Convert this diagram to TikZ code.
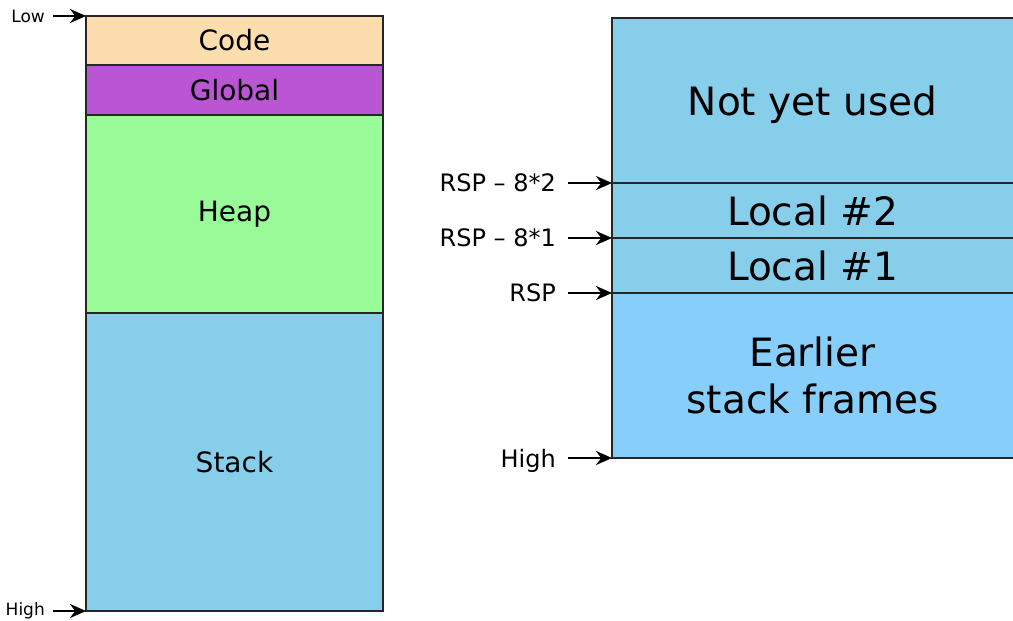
\documentclass[tikz,border=0pt]{standalone}
\usepackage{fontspec}
\setmainfont{DejaVu Sans}
\usetikzlibrary{positioning,arrows.meta}

\definecolor{codecol}{RGB}{252,222,174}
\definecolor{globalcol}{RGB}{186,85,211}
\definecolor{heapcol}{RGB}{152,251,152}
\definecolor{stackcol}{RGB}{135,206,235}
\definecolor{earliercol}{RGB}{135,206,250}

\tikzset{
  seg/.style={draw=black!85, line width=2.2pt, minimum width=297, inner sep=0, outer sep=0,
    font=\fontsize{28}{32}\selectfont},
  frame/.style={minimum width=401, inner sep=0, outer sep=0, fill=stackcol,
    font=\fontsize{39}{47}\selectfont, align=center},
  border/.style={draw=black!85, line width=2.2pt},
  smalllbl/.style={anchor=east, inner xsep=8, inner ysep=0, font=\fontsize{17}{19}\selectfont},
  biglbl/.style={anchor=east, inner xsep=12, inner ysep=0, font=\fontsize{24}{28}\selectfont},
  arr/.style={-{Stealth[length=16pt,width=14pt]}, line width=2.4pt},
}

\begin{document}
\begin{tikzpicture}[x=1pt,y=-1pt]
\useasboundingbox (0,0) rectangle (1013,621);

% memory layout
  \node[seg, fill=codecol, minimum height=49, anchor=north west] (code) at (86,16) {Code};
  \node[seg, fill=globalcol, minimum height=50, below=0 of code] (global) {Global};
  \node[seg, fill=heapcol, minimum height=198, below=0 of global] (heap) {Heap};
  \node[seg, fill=stackcol, minimum height=298, below=0 of heap] (stack) {Stack};

  \node[smalllbl] (low) at (53,16) {Low};
  \node[smalllbl] (high) at (53,611) {High};
  \draw[arr] (low.east) -- (code.north west);
  \draw[arr] (high.east) -- (stack.south west);

% stack frame
  \node[frame, minimum height=165, anchor=north west, text depth=0] (unused) at (612,18) {Not yet used};
  \node[frame, minimum height=55, below=0 of unused] (local2) {Local \#2};
  \node[frame, minimum height=55, below=0 of local2] (local1) {Local \#1};
  \node[frame, minimum height=165, below=0 of local1, fill=earliercol] (earlier) {Earlier\\stack frames};

  \draw[border] (unused.north east) -- (unused.north west) -- (earlier.south west) -- (earlier.south east);
  \foreach \Seg in {local2, local1, earlier}{
    \draw[border] (\Seg.north west) -- (\Seg.north east);
  }

  \node[biglbl] (rsp2) at (568,183) {RSP – 8*2};
  \node[biglbl] (rsp1) at (568,238) {RSP – 8*1};
  \node[biglbl] (rsp) at (568,293) {RSP};
  \node[biglbl] (bottom) at (568,461) {High};
  \draw[arr] (rsp2.east) -- (local2.north west);
  \draw[arr] (rsp1.east) -- (local1.north west);
  \draw[arr] (rsp.east) -- (earlier.north west);
  \draw[arr] (bottom.east |- earlier.south west) -- (earlier.south west);
\end{tikzpicture}
\end{document}
